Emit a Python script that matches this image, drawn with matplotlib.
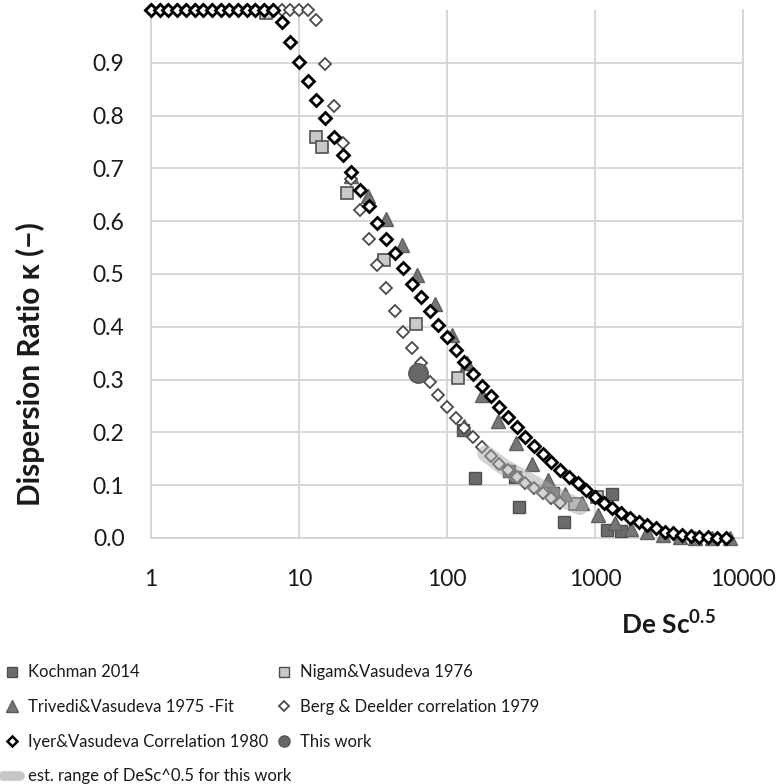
import numpy as np
import matplotlib
matplotlib.use("Agg")
import matplotlib.pyplot as plt
from matplotlib.lines import Line2D

plt.rcParams['font.family'] = ['Lato', 'DejaVu Sans']
plt.rcParams['mathtext.fontset'] = 'custom'
plt.rcParams['mathtext.rm'] = 'Lato'
plt.rcParams['mathtext.bf'] = 'Lato:bold'

# Iyer & Vasudeva correlation 1980
iyer_x = [1.0, 1.145, 1.311, 1.501, 1.719, 1.968, 2.254, 2.581, 2.955, 3.384,
          3.875, 4.437, 5.080, 5.817, 6.661, 7.627, 8.733, 10.0, 11.45, 13.11,
          15.01, 17.19, 19.68, 22.54, 25.81, 29.55, 33.84, 38.75, 44.37, 50.80,
          58.17, 66.61, 76.27, 87.33, 100.0, 114.5, 131.1, 150.1, 171.9, 196.8,
          225.4, 258.1, 295.5, 338.4, 387.5, 443.7, 508.0, 581.7, 666.1, 762.7,
          873.3, 1000, 1145, 1311, 1501, 1719, 1968, 2254, 2581, 2955,
          3384, 3875, 4437, 5080, 5817, 6661, 7627]
iyer_y = [1.0, 1.0, 1.0, 1.0, 1.0, 1.0, 1.0, 1.0, 1.0, 1.0,
          1.0, 1.0, 1.0, 1.0, 1.0, 0.978, 0.940, 0.902, 0.866, 0.830,
          0.795, 0.760, 0.725, 0.694, 0.660, 0.629, 0.597, 0.566, 0.540, 0.511,
          0.482, 0.456, 0.429, 0.403, 0.381, 0.356, 0.333, 0.311, 0.288, 0.268,
          0.248, 0.229, 0.210, 0.192, 0.175, 0.159, 0.143, 0.129, 0.115, 0.104,
          0.091, 0.078, 0.066, 0.056, 0.047, 0.038, 0.031, 0.025, 0.018, 0.012,
          0.009, 0.006, 0.003, 0.002, 0.001, 0.0, 0.0]

# Berg & Deelder correlation 1979
berg_x = iyer_x[:48]
berg_y = [1.0, 1.0, 1.0, 1.0, 1.0, 1.0, 1.0, 1.0, 1.0, 1.0,
          1.0, 1.0, 1.0, 1.0, 1.0, 1.0, 1.0, 1.0, 1.0, 0.981,
          0.898, 0.818, 0.749, 0.680, 0.621, 0.566, 0.517, 0.473, 0.430, 0.391,
          0.359, 0.331, 0.296, 0.271, 0.249, 0.227, 0.208, 0.191, 0.173, 0.155,
          0.141, 0.129, 0.116, 0.105, 0.094, 0.085, 0.075, 0.066]

# Trivedi & Vasudeva 1975 - fit
triv_x = [22.4, 29.4, 38.7, 49.4, 63.0, 83.0, 107.7, 131, 135.9, 171.5, 222, 291,
          377, 483, 627, 813, 1052, 1365, 1750, 2254, 2891, 3750, 4775, 6150, 8170]
triv_y = [0.686, 0.648, 0.604, 0.555, 0.499, 0.444, 0.385, 0.212, 0.331, 0.271,
          0.221, 0.179, 0.141, 0.110, 0.083, 0.066, 0.043, 0.028, 0.017, 0.011,
          0.005, 0.002, 0.0, 0.0, 0.0]

# Kochman 2014
koch_x = [129, 155, 262, 290, 308, 520, 620, 1200, 1300, 1510]
koch_y = [0.205, 0.113, 0.126, 0.116, 0.058, 0.086, 0.030, 0.016, 0.083, 0.014]

# Nigam & Vasudeva 1976
nig_x = [6.0, 13.0, 14.2, 21.0, 37.7, 61.8, 119, 733, 1030]
nig_y = [0.995, 0.760, 0.741, 0.653, 0.526, 0.405, 0.303, 0.065, 0.077]

# this work
tw_x = [64]
tw_y = [0.313]

# estimated range of DeSc^0.5 for this work
band_x = [182, 250, 364, 520, 790]
band_y = [0.160, 0.132, 0.107, 0.082, 0.059]

fig = plt.figure(figsize=(7.84, 7.84), dpi=100)
ax = fig.add_axes([151/784, 1-538/784, 592/784, 528/784])

ax.plot(koch_x, koch_y, 's', ms=8.5, mfc='#6b6b6b', mec='#505050', mew=1.0, ls='none', zorder=3)
ax.plot(nig_x, nig_y, 's', ms=8.5, mfc='#c9c9c9', mec='#505050', mew=1.2, ls='none', zorder=3)
ax.plot(triv_x, triv_y, '^', ms=10, mfc='#767676', mec='#5e5e5e', mew=1.0, ls='none', zorder=3)
ax.plot(berg_x, berg_y, 'D', ms=5.8, mfc='white', mec='#4a4a4a', mew=1.3, ls='none', zorder=4)
ax.plot(iyer_x, iyer_y, 'D', ms=6.0, mfc='white', mec='black', mew=2.0, ls='none', zorder=5)
ax.plot(tw_x, tw_y, 'o', ms=14, mfc='#686868', mec='#555555', mew=1.0, ls='none', zorder=6)
ax.plot(band_x, band_y, '-', lw=12, color='#a8a8a8', alpha=0.5,
        solid_capstyle='round', zorder=7)

ax.set_xscale('log')
ax.set_xlim(1, 10000)
ax.set_ylim(0, 1.0)
ax.set_xticks([1, 10, 100, 1000, 10000])
ax.set_xticklabels(['1', '10', '100', '1000', '10000'])
ax.set_yticks(np.arange(0, 0.95, 0.1))
ax.set_yticklabels(['0.0', '0.1', '0.2', '0.3', '0.4', '0.5', '0.6', '0.7', '0.8', '0.9'])
ax.minorticks_off()
ax.tick_params(axis='both', length=0, labelsize=16.5, colors='#1a1a1a')
ax.tick_params(axis='y', pad=19)
ax.tick_params(axis='x', pad=22)
ax.grid(True, color='#d4d4d4', lw=1.3)
ax.spines['top'].set_visible(False)
for s in ['left', 'bottom', 'right']:
    ax.spines[s].set_color('#d4d4d4')
    ax.spines[s].set_linewidth(1.3)
ax.set_axisbelow(True)
for ln in ax.lines:
    ln.set_clip_on(False)

fig.text(30/784, 1-364/784, 'Dispersion Ratio κ (−)', rotation=90, ha='center', va='center',
         fontsize=21.5, fontweight='bold', color='#1a1a1a')
fig.text(716/784, 1-624/784, r'De Sc$^{\mathbf{0.5}}$', ha='right', va='center',
         fontsize=19, fontweight='bold', color='#1a1a1a')

h_koch = Line2D([], [], marker='s', ls='none', ms=7, mfc='#6b6b6b', mec='#505050', mew=1.0)
h_nig = Line2D([], [], marker='s', ls='none', ms=7, mfc='#c9c9c9', mec='#505050', mew=1.0)
h_triv = Line2D([], [], marker='^', ms=8, ls='none', mfc='#767676', mec='#5e5e5e', mew=1.0)
h_berg = Line2D([], [], marker='D', ms=5.5, ls='none', mfc='white', mec='#4a4a4a', mew=1.3)
h_iyer = Line2D([], [], marker='D', ms=5.5, ls='none', mfc='white', mec='black', mew=1.8)
h_tw = Line2D([], [], marker='o', ms=8, ls='none', mfc='#686868', mec='#555555', mew=1.0)
h_band = Line2D([], [], lw=7, color='#b0b0b0', alpha=0.7, solid_capstyle='round')

leg_kw = dict(loc='upper left', frameon=False, fontsize=12.0, handlelength=1.0,
              handletextpad=0.5, labelspacing=1.12, borderaxespad=0, borderpad=0.2,
              labelcolor='#1a1a1a')
fig.legend([h_koch, h_triv, h_iyer, h_band],
           ['Kochman 2014', 'Trivedi&Vasudeva 1975 -Fit',
            'Iyer&Vasudeva Correlation 1980', 'est. range of DeSc^0.5 for this work'],
           bbox_to_anchor=(0/784, 1-661/784), **leg_kw)
fig.legend([h_nig, h_berg, h_tw],
           ['Nigam&Vasudeva 1976', 'Berg & Deelder correlation 1979', 'This work'],
           bbox_to_anchor=(272/784, 1-661/784), **leg_kw)

fig.savefig('out.png', dpi=100)
